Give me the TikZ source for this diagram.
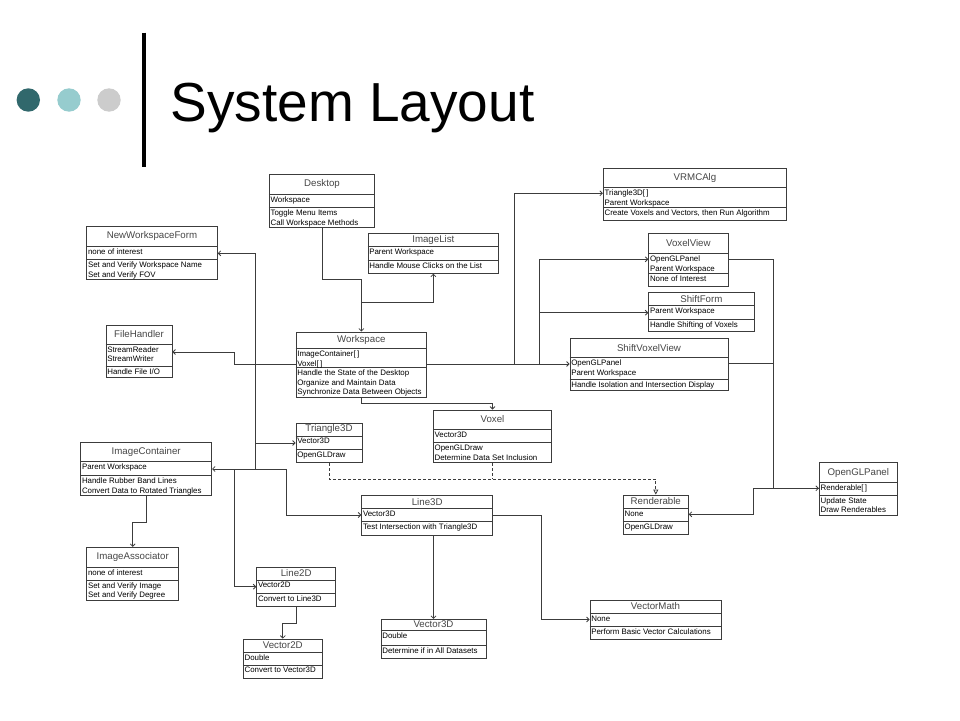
\documentclass[tikz,border=0pt]{standalone}
\usepackage{fontspec}
\setmainfont{Liberation Sans}
\usetikzlibrary{arrows.meta,calc,fit}
\definecolor{dotdark}{RGB}{49,104,108}
\definecolor{dotlight}{RGB}{150,204,206}
\definecolor{dotgrey}{RGB}{204,204,204}
\definecolor{umlline}{RGB}{60,60,60}
\definecolor{umlname}{RGB}{70,70,70}
\tikzset{
  classbox/.style={draw=umlline, line width=0.8pt, inner sep=0pt},
  classline/.style={draw=umlline, line width=0.8pt},
  classname/.style={inner sep=0pt, text=umlname, font=\fontsize{9.7}{11}\selectfont},
  classtext/.style={anchor=north west, inner xsep=1.5pt, inner ysep=2.2pt, align=left, font=\fontsize{7.9}{9.7}\selectfont},
  assoc/.style={classline, -{Straight Barb[length=2.5pt,width=5pt]}},
  realize/.style={classline, densely dashed, -{Triangle[open,length=5pt,width=5pt]}},
}
% name, top left, bottom right, title line, separator, title, attributes, methods
\newcommand{\umlclass}[8]{
  \node[classbox, fit={(#2) (#3)}] (#1) {};
  \draw[classline] (#1.west |- 0,#4) -- (#1.east |- 0,#4);
  \draw[classline] (#1.west |- 0,#5) -- (#1.east |- 0,#5);
  \node[classname] (#1-name) at ($(#1.north)!.5!(#1.north |- 0,#4)$) {#6};
  \node[classtext] (#1-attr) at (#1.west |- 0,#4) {#7};
  \node[classtext] (#1-ops) at (#1.west |- 0,#5) {#8};
}

\begin{document}
\begin{tikzpicture}[x=1pt,y=-1pt]
\fill[white] (0,0) rectangle (960,720);
\useasboundingbox (0,0) rectangle (960,720);
% title
\foreach \c/\x in {dotdark/28.3,dotlight/69,dotgrey/109}{
  \fill[\c] (\x,100) circle (11.7);
}
\draw[line width=4pt] (144,32.7) -- (144,167.3);
\node[anchor=base west, inner sep=0pt, font=\fontsize{55}{60}\selectfont] (title) at (170.5,121.7) {System Layout};
% classes
\umlclass{desk}{269.3,174.7}{374.7,227.3}{194}{207.3}{Desktop}{Workspace}{Toggle Menu Items\\Call Workspace Methods}
\umlclass{nwf}{86.7,226.7}{217.3,279.3}{246}{259.3}{NewWorkspaceForm}{none of interest}{Set and Verify Workspace Name\\Set and Verify FOV}
\umlclass{ilist}{368,233.3}{498.7,273.3}{246.7}{260}{ImageList}{Parent Workspace}{Handle Mouse Clicks on the List}
\umlclass{fhand}{106,325.3}{172,377.3}{344}{366.7}{FileHandler}{StreamReader\\StreamWriter}{Handle File I/O}
\umlclass{work}{296,332}{426.7,397.3}{348.7}{367.3}{Workspace}{ImageContainer[\,]\\Voxel[\,]}{Handle the State of the Desktop\\Organize and Maintain Data\\Synchronize Data Between Objects}
\umlclass{vrmc}{603.3,168.3}{786.7,220.7}{187.3}{207.3}{VRMCAlg}{Triangle3D[\,]\\Parent Workspace}{Create Voxels and Vectors, then Run Algorithm}
\umlclass{vview}{648.7,233.3}{728,286}{253.3}{273.3}{VoxelView}{OpenGLPanel\\Parent Workspace}{None of Interest}
\umlclass{sform}{648.7,292.5}{754,331.7}{305.8}{319}{ShiftForm}{Parent Workspace}{Handle Shifting of Voxels}
\umlclass{svv}{570,338.3}{728,390.7}{357.3}{379.3}{ShiftVoxelView}{OpenGLPanel\\Parent Workspace}{Handle Isolation and Intersection Display}
\umlclass{ogl}{819.3,462.7}{897.3,515}{482.7}{495}{OpenGLPanel}{Renderable[\,]}{Update State\\Draw Renderables}
\umlclass{rend}{623.3,495}{688.3,534.3}{508.3}{521.7}{Renderable}{None}{OpenGLDraw}
\umlclass{tri}{296,423.3}{362,462.7}{436}{449.3}{Triangle3D}{Vector3D}{OpenGLDraw}
\umlclass{voxel}{433.3,410}{551.7,462.7}{429.3}{442.7}{Voxel}{Vector3D}{OpenGLDraw\\Determine Data Set Inclusion}
\umlclass{icont}{80.7,442.7}{211.7,495.7}{461.7}{475.3}{ImageContainer}{Parent Workspace}{Handle Rubber Band Lines\\Convert Data to Rotated Triangles}
\umlclass{line3}{361.7,495.7}{492.7,535}{508.3}{521.7}{Line3D}{Vector3D}{Test Intersection with Triangle3D}
\umlclass{iassoc}{86.7,547.3}{178.7,600}{567.3}{580}{ImageAssociator}{none of interest}{Set and Verify Image\\Set and Verify Degree}
\umlclass{line2}{256.7,567.3}{335.7,606.7}{580}{593.3}{Line2D}{Vector2D}{Convert to Line3D}
\umlclass{vec2}{243.3,639}{322.3,678}{652.3}{665}{Vector2D}{Double}{Convert to Vector3D}
\umlclass{vec3}{381,619.3}{486,658.7}{630}{645}{Vector3D}{Double}{Determine if in All Datasets}
\umlclass{vmath}{590,600}{721,639.3}{613.3}{626.7}{VectorMath}{None}{Perform Basic Vector Calculations}
% junctions
\coordinate (jlist) at (361.3,302);
\coordinate (busW) at (255,364);
\coordinate (busE) at (514.7,364);
\coordinate (busF) at (539.3,364);
% associations
\draw[assoc] (desk.south) -- ++(0,52) -| (work.north);
\draw[assoc] (jlist) -| (ilist.south);
\draw[assoc] (work.west |- 0,364) -| (234,352) -- (fhand.east |- 0,352);
\draw[assoc] (busW) |- (nwf.east |- 0,253.3);
\draw[assoc] (busW) |- (tri.west |- 0,443);
\draw[assoc] (busW) |- (icont.east |- 0,469);
\draw[assoc] (255,469) -| (286.7,515) -- (line3.west |- 0,515);
\draw[assoc] (234,469) |- (line2.west |- 0,586.7);
\draw[assoc] (icont.south) -- ++(0,26) -| (iassoc.north);
\draw[assoc] (line2.south) -- ++(0,16) -| (vec2.north);
\draw[assoc] (line3.south -| vec3.north) -- (vec3.north);
\draw[assoc] (line3.east |- 0,515) -| (541,619.5) -- (vmath.west |- 0,619.5);
\draw[assoc] (work.east |- 0,364) -- (svv.west |- 0,364);
\draw[assoc] (busE) |- (vrmc.west |- 0,193.3);
\draw[assoc] (busF) |- (vview.west |- 0,259.3);
\draw[assoc] (busF |- 0,312.7) -- (sform.west |- 0,312.7);
\draw[assoc] (work.south) -- ++(0,6) -| (voxel.north);
\draw[assoc] (vview.east |- 0,259.3) -| (773.3,488.3) -- (ogl.west |- 0,488.3);
\draw[classline] (svv.east |- 0,363.3) -- (773.3,363.3);
\draw[assoc] (ogl.west |- 0,488.3) -| (753.3,514.3) -- (rend.east |- 0,514.3);
% realizations
\draw[realize] (tri.south) |- (rend.north |- 0,479) -- (rend.north);
\draw[classline, densely dashed] (voxel.south) -- (voxel.south |- 0,479);
\end{tikzpicture}
\end{document}
